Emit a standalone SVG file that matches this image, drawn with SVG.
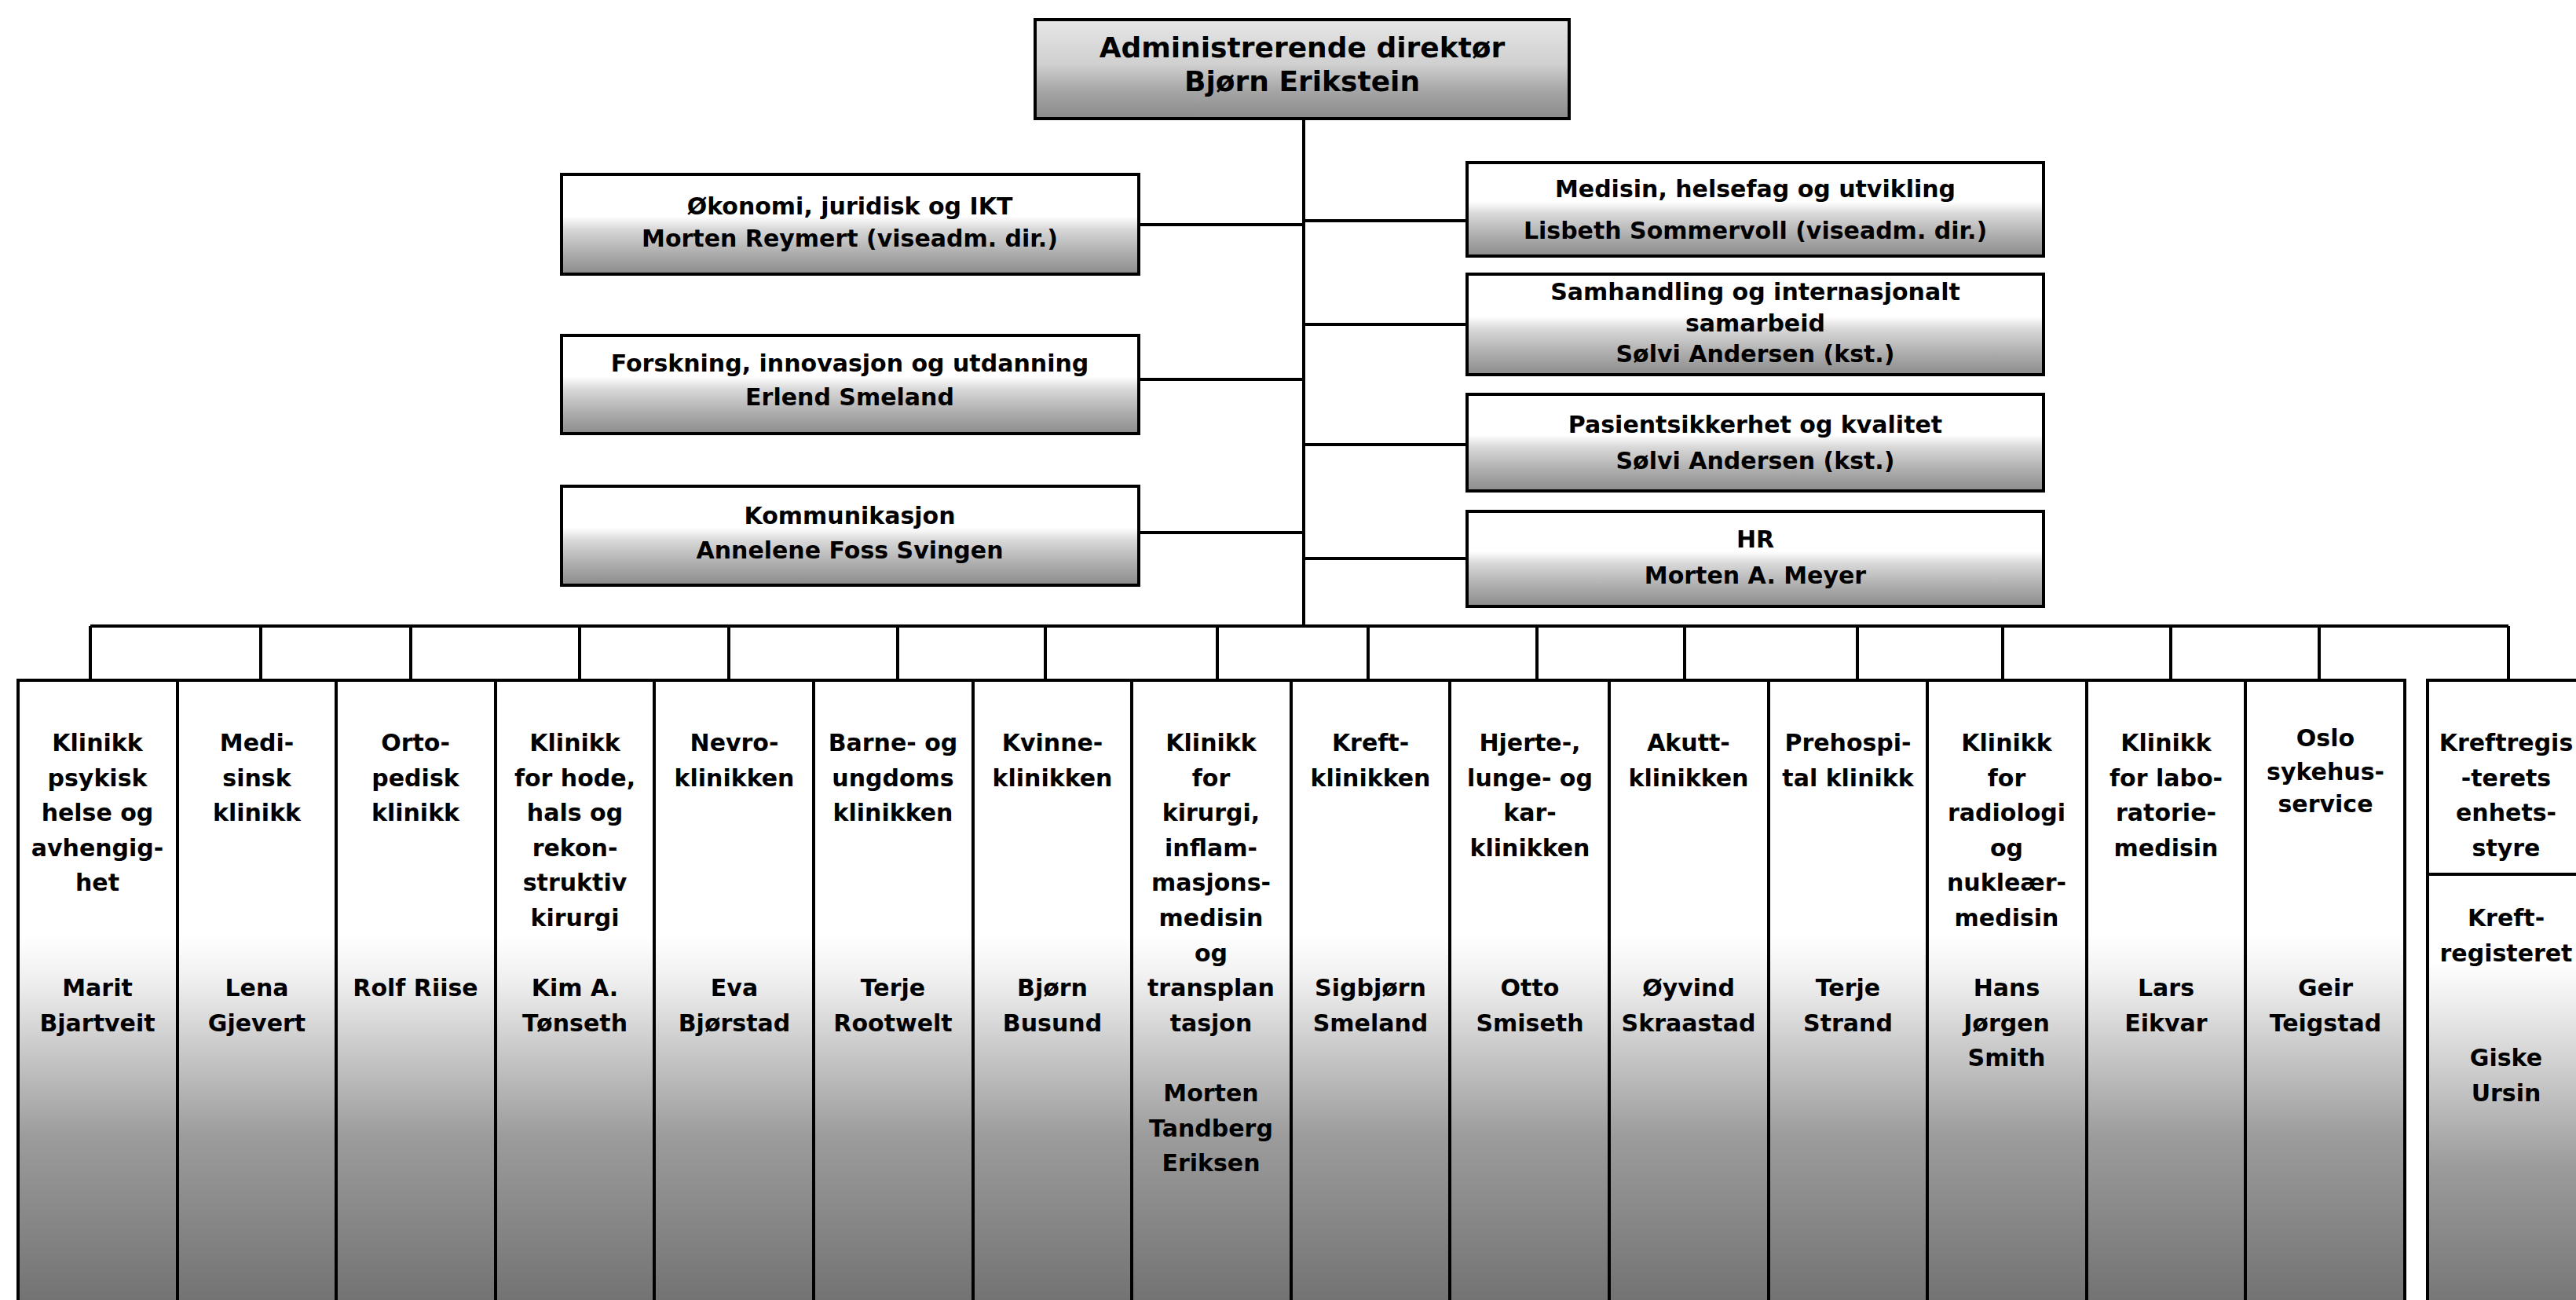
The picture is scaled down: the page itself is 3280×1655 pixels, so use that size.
<svg xmlns="http://www.w3.org/2000/svg" width="3280" height="1655" viewBox="0 0 3280 1655">
<style>
.box{stroke:#000;stroke-width:4}
.t{font-family:"DejaVu Sans","Liberation Sans",sans-serif;font-weight:bold;text-anchor:middle;fill:#000;font-size:30px}
.tt{font-size:36px}
.conn{stroke:#000;stroke-width:4;fill:none}
</style>
<defs>
<linearGradient id="gTop" x1="0" y1="0" x2="0" y2="1">
<stop offset="0" stop-color="#e6e6e6"/><stop offset="0.45" stop-color="#d0d0d0"/><stop offset="0.7" stop-color="#a8a8a8"/><stop offset="1" stop-color="#8a8a8a"/>
</linearGradient>
<linearGradient id="gMid" x1="0" y1="0" x2="0" y2="1">
<stop offset="0" stop-color="#fff"/><stop offset="0.42" stop-color="#fff"/><stop offset="0.55" stop-color="#d8d8d8"/><stop offset="0.8" stop-color="#ababab"/><stop offset="1" stop-color="#8c8c8c"/>
</linearGradient>
<linearGradient id="gClin" gradientUnits="userSpaceOnUse" x1="0" y1="1190" x2="0" y2="1655">
<stop offset="0" stop-color="#fff"/><stop offset="0.12" stop-color="#f0f0f0"/><stop offset="0.3" stop-color="#cccccc"/><stop offset="0.55" stop-color="#9c9c9c"/><stop offset="1" stop-color="#737373"/>
</linearGradient>
<linearGradient id="gKreft" gradientUnits="userSpaceOnUse" x1="0" y1="1225" x2="0" y2="1655">
<stop offset="0" stop-color="#fff"/><stop offset="0.12" stop-color="#eee"/><stop offset="0.35" stop-color="#c8c8c8"/><stop offset="0.6" stop-color="#9c9c9c"/><stop offset="1" stop-color="#777"/>
</linearGradient>
</defs>
<rect width="3280" height="1655" fill="#fff"/>

<g id="connectors">
<line class="conn" x1="1660" y1="151" x2="1660" y2="797"/>
<line class="conn" x1="1450" y1="286" x2="1660" y2="286"/>
<line class="conn" x1="1450" y1="483" x2="1660" y2="483"/>
<line class="conn" x1="1450" y1="678" x2="1660" y2="678"/>
<line class="conn" x1="1660" y1="281" x2="1868" y2="281"/>
<line class="conn" x1="1660" y1="413" x2="1868" y2="413"/>
<line class="conn" x1="1660" y1="566" x2="1868" y2="566"/>
<line class="conn" x1="1660" y1="711" x2="1868" y2="711"/>
<line class="conn" x1="115" y1="797" x2="3194" y2="797"/>
<path class="conn" d="M115 797V866M332 797V866M523 797V866M738 797V866M928 797V866M1143 797V866M1331 797V866M1550 797V866M1742 797V866M1957 797V866M2145 797V866M2365 797V866M2550 797V866M2764 797V866M2953 797V866M3194 797V866"/>
</g>

<g id="n-ceo">
<rect class="box" x="1318" y="25" width="680" height="126" fill="url(#gTop)"/>
<text class="t tt" x="1658" y="73">Administrerende direktør</text>
<text class="t tt" x="1658" y="116">Bjørn Erikstein</text>
</g>

<g id="n-okonomi">
<rect class="box" x="715" y="222" width="735" height="127" fill="url(#gMid)"/>
<text class="t" x="1082" y="273">Økonomi, juridisk og IKT</text>
<text class="t" x="1082" y="314">Morten Reymert (viseadm. dir.)</text>
</g>
<g id="n-forskning">
<rect class="box" x="715" y="427" width="735" height="125" fill="url(#gMid)"/>
<text class="t" x="1082" y="473">Forskning, innovasjon og utdanning</text>
<text class="t" x="1082" y="516">Erlend Smeland</text>
</g>
<g id="n-kommunikasjon">
<rect class="box" x="715" y="619" width="735" height="126" fill="url(#gMid)"/>
<text class="t" x="1082" y="667">Kommunikasjon</text>
<text class="t" x="1082" y="711">Annelene Foss Svingen</text>
</g>

<g id="n-medisin">
<rect class="box" x="1868" y="207" width="734" height="119" fill="url(#gMid)"/>
<text class="t" x="2235" y="251">Medisin, helsefag og utvikling</text>
<text class="t" x="2235" y="304">Lisbeth Sommervoll (viseadm. dir.)</text>
</g>
<g id="n-samhandling">
<rect class="box" x="1868" y="349" width="734" height="128" fill="url(#gMid)"/>
<text class="t" x="2235" y="382">Samhandling og internasjonalt</text>
<text class="t" x="2235" y="422">samarbeid</text>
<text class="t" x="2235" y="461">Sølvi Andersen (kst.)</text>
</g>
<g id="n-pasient">
<rect class="box" x="1868" y="502" width="734" height="123" fill="url(#gMid)"/>
<text class="t" x="2235" y="551">Pasientsikkerhet og kvalitet</text>
<text class="t" x="2235" y="597">Sølvi Andersen (kst.)</text>
</g>
<g id="n-hr">
<rect class="box" x="1868" y="651" width="734" height="121" fill="url(#gMid)"/>
<text class="t" x="2235" y="697">HR</text>
<text class="t" x="2235" y="743">Morten A. Meyer</text>
</g>

<g id="c1">
<rect class="box" x="23" y="866" width="203" height="800" fill="url(#gClin)"/>
<text class="t" x="124"><tspan x="124" y="956">Klinikk</tspan><tspan x="124" y="1001">psykisk</tspan><tspan x="124" y="1045">helse og</tspan><tspan x="124" y="1090">avhengig-</tspan><tspan x="124" y="1134">het</tspan><tspan x="124" y="1268">Marit</tspan><tspan x="124" y="1313">Bjartveit</tspan></text>
</g>
<g id="c2">
<rect class="box" x="226" y="866" width="202" height="800" fill="url(#gClin)"/>
<text class="t"><tspan x="327" y="956">Medi-</tspan><tspan x="327" y="1001">sinsk</tspan><tspan x="327" y="1045">klinikk</tspan><tspan x="327" y="1268">Lena</tspan><tspan x="327" y="1313">Gjevert</tspan></text>
</g>
<g id="c3">
<rect class="box" x="428" y="866" width="203" height="800" fill="url(#gClin)"/>
<text class="t"><tspan x="529" y="956">Orto-</tspan><tspan x="529" y="1001">pedisk</tspan><tspan x="529" y="1045">klinikk</tspan><tspan x="529" y="1268">Rolf Riise</tspan></text>
</g>
<g id="c4">
<rect class="box" x="631" y="866" width="202" height="800" fill="url(#gClin)"/>
<text class="t"><tspan x="732" y="956">Klinikk</tspan><tspan x="732" y="1001">for hode,</tspan><tspan x="732" y="1045">hals og</tspan><tspan x="732" y="1090">rekon-</tspan><tspan x="732" y="1134">struktiv</tspan><tspan x="732" y="1179">kirurgi</tspan><tspan x="732" y="1268">Kim A.</tspan><tspan x="732" y="1313">Tønseth</tspan></text>
</g>
<g id="c5">
<rect class="box" x="833" y="866" width="203" height="800" fill="url(#gClin)"/>
<text class="t"><tspan x="935" y="956">Nevro-</tspan><tspan x="935" y="1001">klinikken</tspan><tspan x="935" y="1268">Eva</tspan><tspan x="935" y="1313">Bjørstad</tspan></text>
</g>
<g id="c6">
<rect class="box" x="1036" y="866" width="203" height="800" fill="url(#gClin)"/>
<text class="t"><tspan x="1137" y="956">Barne- og</tspan><tspan x="1137" y="1001">ungdoms</tspan><tspan x="1137" y="1045">klinikken</tspan><tspan x="1137" y="1268">Terje</tspan><tspan x="1137" y="1313">Rootwelt</tspan></text>
</g>
<g id="c7">
<rect class="box" x="1239" y="866" width="202" height="800" fill="url(#gClin)"/>
<text class="t"><tspan x="1340" y="956">Kvinne-</tspan><tspan x="1340" y="1001">klinikken</tspan><tspan x="1340" y="1268">Bjørn</tspan><tspan x="1340" y="1313">Busund</tspan></text>
</g>
<g id="c8">
<rect class="box" x="1441" y="866" width="203" height="800" fill="url(#gClin)"/>
<text class="t"><tspan x="1542" y="956">Klinikk</tspan><tspan x="1542" y="1001">for</tspan><tspan x="1542" y="1045">kirurgi,</tspan><tspan x="1542" y="1090">inflam-</tspan><tspan x="1542" y="1134">masjons-</tspan><tspan x="1542" y="1179">medisin</tspan><tspan x="1542" y="1224">og</tspan><tspan x="1542" y="1268">transplan</tspan><tspan x="1542" y="1313">tasjon</tspan><tspan x="1542" y="1402">Morten</tspan><tspan x="1542" y="1447">Tandberg</tspan><tspan x="1542" y="1491">Eriksen</tspan></text>
</g>
<g id="c9">
<rect class="box" x="1644" y="866" width="202" height="800" fill="url(#gClin)"/>
<text class="t"><tspan x="1745" y="956">Kreft-</tspan><tspan x="1745" y="1001">klinikken</tspan><tspan x="1745" y="1268">Sigbjørn</tspan><tspan x="1745" y="1313">Smeland</tspan></text>
</g>
<g id="c10">
<rect class="box" x="1846" y="866" width="203" height="800" fill="url(#gClin)"/>
<text class="t"><tspan x="1948" y="956">Hjerte-,</tspan><tspan x="1948" y="1001">lunge- og</tspan><tspan x="1948" y="1045">kar-</tspan><tspan x="1948" y="1090">klinikken</tspan><tspan x="1948" y="1268">Otto</tspan><tspan x="1948" y="1313">Smiseth</tspan></text>
</g>
<g id="c11">
<rect class="box" x="2049" y="866" width="203" height="800" fill="url(#gClin)"/>
<text class="t"><tspan x="2150" y="956">Akutt-</tspan><tspan x="2150" y="1001">klinikken</tspan><tspan x="2150" y="1268">Øyvind</tspan><tspan x="2150" y="1313">Skraastad</tspan></text>
</g>
<g id="c12">
<rect class="box" x="2252" y="866" width="202" height="800" fill="url(#gClin)"/>
<text class="t"><tspan x="2353" y="956">Prehospi-</tspan><tspan x="2353" y="1001">tal klinikk</tspan><tspan x="2353" y="1268">Terje</tspan><tspan x="2353" y="1313">Strand</tspan></text>
</g>
<g id="c13">
<rect class="box" x="2454" y="866" width="203" height="800" fill="url(#gClin)"/>
<text class="t"><tspan x="2555" y="956">Klinikk</tspan><tspan x="2555" y="1001">for</tspan><tspan x="2555" y="1045">radiologi</tspan><tspan x="2555" y="1090">og</tspan><tspan x="2555" y="1134">nukleær-</tspan><tspan x="2555" y="1179">medisin</tspan><tspan x="2555" y="1268">Hans</tspan><tspan x="2555" y="1313">Jørgen</tspan><tspan x="2555" y="1357">Smith</tspan></text>
</g>
<g id="c14">
<rect class="box" x="2657" y="866" width="202" height="800" fill="url(#gClin)"/>
<text class="t"><tspan x="2758" y="956">Klinikk</tspan><tspan x="2758" y="1001">for labo-</tspan><tspan x="2758" y="1045">ratorie-</tspan><tspan x="2758" y="1090">medisin</tspan><tspan x="2758" y="1268">Lars</tspan><tspan x="2758" y="1313">Eikvar</tspan></text>
</g>
<g id="c15">
<rect class="box" x="2859" y="866" width="203" height="800" fill="url(#gClin)"/>
<text class="t"><tspan x="2961" y="950">Oslo</tspan><tspan x="2961" y="993">sykehus-</tspan><tspan x="2961" y="1034">service</tspan><tspan x="2961" y="1268">Geir</tspan><tspan x="2961" y="1313">Teigstad</tspan></text>
</g>
<g id="c16">
<rect class="box" x="3091" y="866" width="210" height="800" fill="url(#gKreft)"/>
<line class="box" x1="3091" y1="1113" x2="3290" y2="1113"/>
<text class="t"><tspan x="3191" y="956">Kreftregis</tspan><tspan x="3191" y="1001">-terets</tspan><tspan x="3191" y="1045">enhets-</tspan><tspan x="3191" y="1090">styre</tspan><tspan x="3191" y="1179">Kreft-</tspan><tspan x="3191" y="1224">registeret</tspan><tspan x="3191" y="1357">Giske</tspan><tspan x="3191" y="1402">Ursin</tspan></text>
</g>
</svg>
